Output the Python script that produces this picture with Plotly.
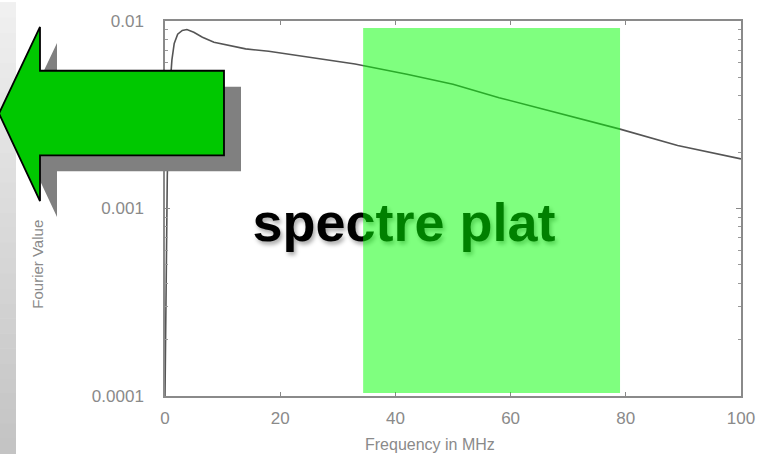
import plotly.graph_objects as go

# ---- data ----
freq_mhz = [0, 0.4, 0.8, 1.2, 1.6, 2.2, 3, 3.8, 5, 6.5, 8.5, 11, 14, 18, 25, 33, 42, 50, 58, 67, 79, 89, 100]
fourier_value = [0.0001, 0.0015, 0.0042, 0.0062, 0.0076, 0.0085, 0.0089, 0.0090, 0.0087, 0.0082,
                 0.0077, 0.0074, 0.0071, 0.0069, 0.0064, 0.0059, 0.0052, 0.0046, 0.0039, 0.0033,
                 0.00265, 0.00217, 0.00184]
x_ticks = [0, 20, 40, 60, 80, 100]
y_ticks = [0.0001, 0.001, 0.01]
y_ticktext = ["0.0001", "0.001", "0.01"]
band_range = [34.4, 79.0]
label_text = "spectre plat"
x_title = "Frequency in MHz"
y_title = "Fourier Value"

W, H = 771, 454
L, R, T, B = 165, 30, 19, 58
PW, PH = W - L - R, H - T - B


def px(x):
    return (x - L) / PW


def py(y):
    return (H - B - y) / PH


def path(points):
    return "M " + " L ".join(f"{px(a):.5f},{py(b):.5f}" for a, b in points) + " Z"


minor_vals = [k * 10 ** e for e in (-4, -3) for k in range(2, 10)]
tick_font = dict(family="Liberation Sans, Arial", size=17, color="#8a8a8a")

fig = go.Figure()

fig.add_trace(go.Scatter(
    x=[41.5], y=[0.00079], mode="text", text=[label_text],
    textposition="middle center",
    textfont=dict(family="Liberation Sans, Arial, sans-serif", size=54, weight="bold",
                  color="black", shadow="2px 3px 4px rgba(0,0,0,0.35)"),
    cliponaxis=False, hoverinfo="skip", showlegend=False))

fig.add_trace(go.Scatter(
    x=freq_mhz, y=fourier_value, mode="lines",
    line=dict(color="#555555", width=1.6),
    showlegend=False, hoverinfo="skip"))

shapes = []
# left gray strip with vertical gradient
nb = 30
for i in range(nb):
    y0 = H * i / nb
    y1 = H * (i + 1) / nb
    c = int(240 - (240 - 196) * i / (nb - 1))
    shapes.append(dict(type="rect", xref="paper", yref="paper",
                       x0=px(0), x1=px(16), y0=py(y1 + 0.5), y1=py(y0),
                       fillcolor=f"rgb({c},{c},{c})", line=dict(width=0), layer="above"))

# translucent green band
shapes.append(dict(type="rect", xref="x", yref="paper",
                   x0=band_range[0], x1=band_range[1], y0=py(393), y1=py(26),
                   fillcolor="rgba(0,255,0,0.5)", line=dict(width=0), layer="above"))

arrow = [(-1, 112), (40, 25), (40, 69), (224, 69), (224, 154), (40, 154), (40, 200)]
shadow = [(a + 17, b + 16) for a, b in arrow]
shapes.append(dict(type="path", xref="paper", yref="paper", path=path(shadow),
                   fillcolor="#808080", line=dict(width=0), layer="above"))
shapes.append(dict(type="path", xref="paper", yref="paper", path=path(arrow),
                   fillcolor="#00c800", line=dict(color="black", width=1.8), layer="above"))

annotations = [
    dict(text=x_title, xref="paper", yref="paper", x=px(430), y=py(445),
         xanchor="center", yanchor="middle",
         showarrow=False, font=dict(family="Liberation Sans, Arial", size=16, color="#8a8a8a")),
    dict(text=y_title, xref="paper", yref="paper", x=px(38), y=py(264), textangle=-90,
         xanchor="center", yanchor="middle",
         showarrow=False, font=dict(family="Liberation Sans, Arial", size=15, color="#8a8a8a")),
]

fig.update_layout(
    width=W, height=H,
    margin=dict(l=L, r=R, t=T, b=B),
    paper_bgcolor="white", plot_bgcolor="white",
    shapes=shapes, annotations=annotations,
    xaxis=dict(range=[0, 100], tickvals=x_ticks, ticks="inside", ticklen=4,
               tickcolor="#888888", mirror="allticks", showline=True, linecolor="#8a8a8a",
               linewidth=1.5, showgrid=False, zeroline=False, ticklabelstandoff=6,
               tickfont=tick_font),
    yaxis=dict(type="log", range=[-4, -2], tickvals=y_ticks, ticktext=y_ticktext,
               ticks="inside", ticklen=5, tickcolor="#888888", mirror="allticks",
               showline=True, linecolor="#8a8a8a", linewidth=1.5, showgrid=False,
               zeroline=False, ticklabelstandoff=16,
               minor=dict(ticks="inside", ticklen=3, tickcolor="#999999", tickvals=minor_vals,
                          showgrid=False),
               tickfont=tick_font),
)

fig.write_html("out.html", config={"displayModeBar": False},
               post_script="document.body.style.margin='0px';")
